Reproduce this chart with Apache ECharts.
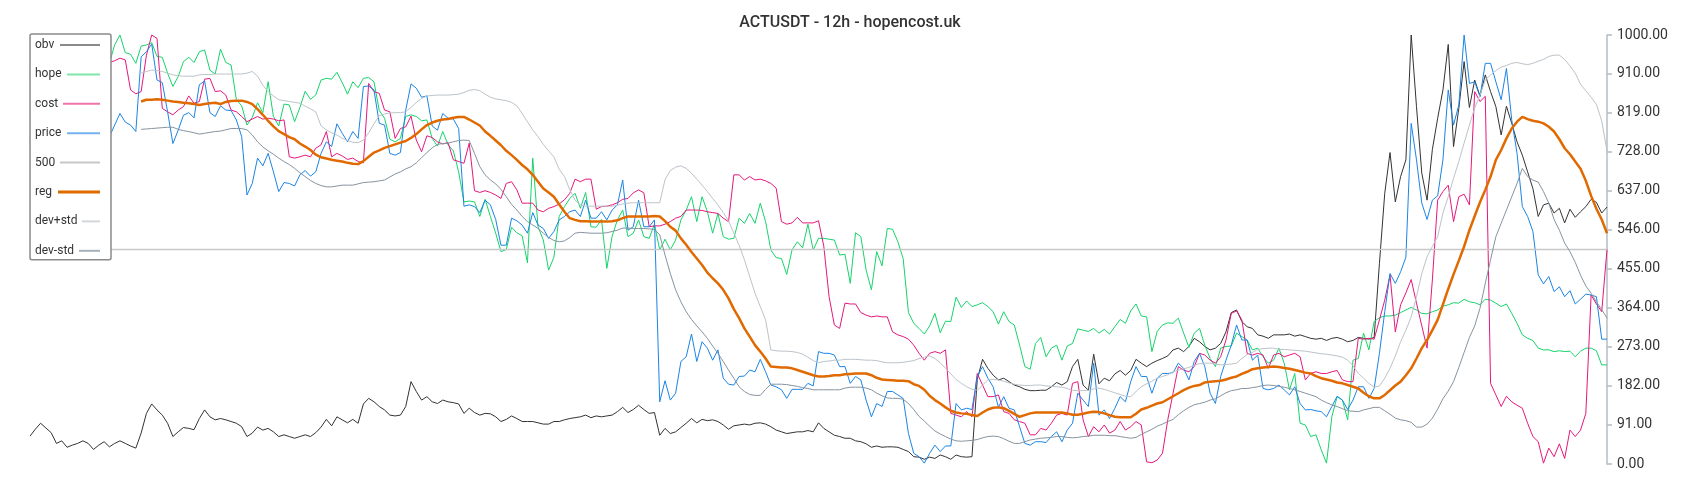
<!DOCTYPE html>
<html>
<head>
<meta charset="utf-8">
<script src="https://cdn.jsdelivr.net/npm/echarts@6/dist/echarts.min.js"></script>
<style>
html,body{margin:0;padding:0;background:#fff;}
#chart{width:1700px;height:500px;}
</style>
</head>
<body>
<div id="chart"></div>
<script>
// ---- data ----
const obv = [
65,81,95,84,73,48,54,39,44,48, 54,48,34,44,52,40,48,54,48,42,
37,72,118,140,126,114,95,64,75,85, 83,80,106,126,110,103,106,103,99,95,
87,64,72,86,79,83,75,64,68,64, 60,64,68,64,73,86,104,89,110,103,
96,104,95,140,153,145,134,126,114,112, 114,134,192,169,149,157,145,141,149,145,
143,140,118,130,120,114,118,117,110,99, 104,112,106,99,99,99,96,93,93,99,
99,103,106,108,110,114,108,112,110,112, 114,122,132,120,127,137,127,118,120,67,
83,71,75,85,95,106,96,104,101,103, 99,91,81,89,91,93,91,95,96,93,
87,79,75,71,73,75,75,78,75,96, 83,75,67,64,60,60,54,52,47,39,
42,39,40,40,39,34,29,17,16,11, 16,13,21,17,11,21,17,16,17,197,
244,223,207,196,200,192,184,180,174,171, 171,172,172,180,190,184,192,227,244,184,
172,256,187,200,194,210,218,207,218,244, 235,227,235,241,246,252,266,270,262,274,
293,285,274,266,270,281,308,353,359,332, 320,316,301,298,293,301,301,301,303,298,
301,297,293,291,293,288,293,295,291,285, 288,295,293,291,295,468,631,726,611,670,
709,1000,833,678,615,733,806,872,978,740, 829,938,831,895,858,907,868,833,767,834,
794,751,720,681,642,577,604,608,585,596, 562,594,575,588,600,617,610,585,599
];
const hope = [
905,930,955,940,970,985,960,945,975,990, 965,950,925,915,930,934,977,1000,959,955,
934,974,977,982,950,948,911,880,903,938, 948,936,961,965,918,909,967,936,930,849,
835,790,808,842,819,891,810,788,839,837, 798,831,869,850,860,895,899,897,913,889,
862,891,877,899,901,891,824,806,757,751, 759,810,814,810,800,802,759,741,775,744,
730,681,611,613,611,577,617,577,538,495, 500,552,539,532,469,713,553,522,452,482,
577,600,619,631,596,633,553,552,570,456, 531,569,592,530,538,569,530,526,559,499,
524,499,522,569,592,623,565,623,588,538, 584,530,524,526,573,561,584,561,608,565,
499,481,479,442,499,518,504,559,499,526, 526,524,522,487,489,421,539,530,452,406,
495,462,549,547,518,479,353,328,316,303, 322,351,306,333,332,389,365,380,367,371,
376,367,355,326,355,332,324,277,227,221, 281,295,250,270,277,242,275,281,315,312,
309,316,305,314,303,320,337,328,357,373, 345,343,262,309,324,329,328,340,305,272,
305,316,277,246,227,270,274,275,305,297, 289,266,270,250,235,242,270,235,173,211,
95,91,64,68,33,2,110,157,149,103, 242,246,305,266,332,341,345,345,347,353,
359,365,359,351,350,355,359,368,371,376, 375,384,378,376,371,384,382,375,367,373,
351,328,301,293,288,270,266,266,262,264, 262,263,250,263,270,270,264,231,231
];
const cost = [
930,945,960,950,935,920,940,955,965,950, 930,925,940,950,945,936,940,946,942,872,
863,868,953,1000,992,829,821,814,825,833, 858,841,845,897,899,868,870,860,825,821,
810,798,804,810,804,806,804,800,802,716, 713,716,720,716,736,744,775,716,724,718,
710,713,705,702,887,868,864,825,821,759, 782,786,811,755,728,765,761,751,746,749,
709,705,701,748,637,633,637,633,627,619, 654,658,639,608,608,608,592,588,596,600,
606,616,631,664,658,664,664,594,600,601, 604,609,617,619,632,639,632,553,555,555,
559,565,573,577,592,592,592,591,588,586, 584,573,565,674,674,662,670,662,664,660,
654,643,565,559,562,575,562,562,562,567, 508,390,324,316,375,373,373,353,347,343,
345,343,343,308,301,297,291,277,258,242, 258,262,258,266,118,114,110,122,110,211,
184,157,157,161,122,118,103,99,95,68, 68,83,79,95,114,118,114,188,192,103,
64,87,75,91,72,79,99,79,87,99, 91,5,3,9,25,103,165,227,219,215,
227,258,254,242,235,250,289,351,357,336, 258,254,258,254,223,254,258,250,254,258,
250,196,211,215,211,211,215,218,196,192, 192,293,291,293,291,336,382,441,308,371,
399,430,375,322,270,429,615,635,650,565, 623,629,604,868,845,857,188,161,134,158,
145,137,130,95,64,52,2,37,17,47, 13,79,64,79,118,394,373,355,500
];
const price = [
760,780,800,770,790,810,780,760,790,800, 775,765,785,795,770,763,790,817,797,790,
775,949,961,979,895,889,821,747,778,813, 819,807,884,893,819,810,835,825,824,802,
763,627,654,713,695,724,681,635,656,654, 648,674,684,671,681,724,751,740,793,771,
751,775,759,880,881,872,794,790,724,720, 726,825,886,876,855,858,788,778,817,806,
804,782,601,604,600,586,615,604,570,510, 510,573,567,557,538,586,557,549,526,542,
569,577,588,592,577,615,573,573,588,569, 592,604,662,545,553,615,553,553,569,145,
194,149,165,239,250,303,239,285,270,242, 266,200,186,184,204,205,219,215,244,215,
184,180,173,153,174,174,174,188,182,262, 258,258,254,227,227,188,204,196,149,110,
141,134,169,169,161,153,71,25,17,2, 25,44,29,42,42,141,126,130,127,204,
227,200,180,132,157,130,126,87,48,44, 52,52,50,64,75,52,79,95,165,149,
134,235,114,126,106,130,157,145,192,227, 204,204,165,200,211,211,213,235,223,196,
239,258,227,165,141,204,242,277,324,289, 289,242,254,176,173,176,184,173,161,180,
141,126,127,124,122,110,134,158,149,127, 149,180,180,153,176,258,355,444,421,448,
482,794,709,608,570,615,625,709,872,790, 837,1000,887,891,856,934,934,891,849,922,
802,724,600,577,542,441,420,437,402,413, 390,404,373,384,396,394,390,291,291
];
const level500 = [500, 500]; // flat line, first and last category
const reg = [
null,null,null,null,null,null,null,null,null,null, null,null,null,null,null,null,null,null,null,null,
null,845,849,849,850,849,847,845,844,842, 841,839,837,839,841,842,839,844,846,847,
847,844,839,827,814,800,787,776,769,762, 757,747,740,732,721,715,712,709,707,705,
702,700,699,706,716,726,731,737,741,745, 749,753,760,769,780,790,796,800,803,804,
807,809,809,803,796,789,775,765,754,743, 730,720,709,697,687,674,658,642,633,623,
605,588,573,569,566,566,565,565,565,565, 566,568,573,577,577,577,577,577,578,577,
566,553,544,526,511,494,479,464,446,433, 421,406,386,361,340,316,297,277,262,246,
227,226,225,225,223,219,215,211,207,204, 204,205,207,207,209,210,211,211,211,207,
201,197,196,195,194,194,193,186,182,173, 159,149,141,132,124,120,118,117,114,112,
120,127,131,132,130,124,117,110,114,118, 120,120,120,120,120,120,118,115,115,117,
120,122,121,118,114,110,109,109,109,117, 127,131,136,141,144,151,158,165,172,178,
182,184,190,192,193,194,197,201,204,210, 215,221,223,225,226,227,226,224,222,219,
216,213,211,205,200,197,194,190,188,184, 180,176,166,158,153,153,161,172,183,192,
207,223,246,270,289,312,336,372,408,442, 474,507,545,578,610,639,670,709,732,759,
782,798,809,804,800,798,794,786,775,757, 736,722,705,688,660,625,595,570,538
];
const devPlus = [
null,null,null,null,null,null,null,null,null,null, null,null,null,null,null,null,null,null,null,null,
null,911,915,918,917,915,911,907,905,904, 904,904,907,908,908,909,909,909,909,909,
909,911,915,904,883,868,858,849,847,845, 843,841,834,828,821,788,779,772,767,759,
754,750,749,755,772,793,812,816,818,819, 819,821,831,843,852,858,859,860,860,860,
861,862,866,871,873,870,862,855,851,849, 847,843,835,817,798,779,763,745,730,716,
687,670,639,615,604,601,601,601,601,601, 601,603,606,608,609,609,609,609,609,609,
663,684,692,695,689,678,664,650,635,619, 604,586,567,538,510,476,437,398,367,336,
266,264,263,263,262,260,256,249,241,236, 239,240,242,242,244,244,244,243,242,242,
241,238,236,236,236,237,239,241,246,249, 252,246,236,223,210,197,188,180,174,172,
184,196,197,196,193,189,186,184,183,183, 184,184,182,181,180,179,176,172,171,171,
172,175,177,174,170,166,162,158,157,169, 180,187,193,200,204,208,215,219,222,225,
230,234,235,235,233,231,232,233,235,246, 255,260,267,269,270,270,267,267,266,265,
264,263,261,259,257,256,254,252,249,242, 229,211,200,188,179,182,200,223,252,285,
312,343,390,444,483,507,530,585,623,666, 705,748,790,830,860,895,907,917,925,929,
934,936,933,931,934,939,943,950,953,953, 943,928,911,885,870,855,838,800,730
];
const devMinus = [
null,null,null,null,null,null,null,null,null,null, null,null,null,null,null,null,null,null,null,null,
null,780,781,782,783,784,785,785,780,777, 775,772,769,771,773,775,776,779,782,782,
782,779,767,751,739,730,722,713,705,698, 689,679,670,661,654,649,646,646,648,650,
650,650,653,656,657,658,660,662,669,676, 681,688,693,702,714,726,737,745,747,748,
751,754,755,754,724,693,674,662,653,640, 623,605,592,577,565,557,549,538,528,521,
518,520,528,538,540,539,538,538,538,539, 542,545,550,550,549,549,549,548,547,534,
487,444,406,378,355,337,322,308,293,275, 258,239,219,200,180,169,162,160,160,174,
186,186,186,185,183,181,178,176,173,173, 173,173,173,173,177,179,179,179,177,173,
165,159,154,153,153,151,141,127,111,100, 88,77,70,64,58,54,53,54,55,57,
61,64,65,64,59,53,48,48,52,56, 58,60,61,62,64,64,62,61,62,64,
65,67,67,67,66,66,64,62,60,62, 69,75,81,88,93,99,104,115,124,132,
138,141,144,149,152,159,166,171,173,176, 176,178,180,183,184,183,181,179,176,173,
169,165,161,157,149,143,138,134,129,124, 123,122,126,129,132,132,124,116,107,103,
101,97,86,86,93,107,128,152,170,192, 225,260,295,322,363,421,476,530,561,592,
623,654,689,670,662,657,635,608,570,545, 515,495,470,440,415,398,378,360,340
];
const yTicks = { min: 0, max: 1000, step: 91 };
const categories = obv.map((_, i) => i);

// ---- chart ----
const names = ['obv', 'hope', 'cost', 'price', '500', 'reg', 'dev+std', 'dev-std'];
const colors = {
  'obv': '#333333', 'hope': '#16d36b', 'cost': '#e5177c', 'price': '#1b84e4',
  '500': '#c8c8c8', 'reg': '#e06900', 'dev+std': '#bcc3c9', 'dev-std': '#8694a0'
};
const legendKeys = {
  'obv': 'lobv', 'hope': 'lhope', 'cost': 'lcost', 'price': 'lprice',
  '500': 'l500', 'reg': 'lreg', 'dev+std': 'ldevp', 'dev-std': 'ldevm'
};
const legendLine = (w, c, h) => ({ width: w, height: h || 2, backgroundColor: c, align: 'right' });

const chart = echarts.init(document.getElementById('chart'), null, { renderer: 'canvas' });

function lineSeries(name, data, width, extra) {
  return Object.assign({
    name: name, type: 'line', data: data,
    showSymbol: false, symbol: 'none', smooth: false,
    connectNulls: false,
    lineStyle: { color: colors[name], width: width },
    itemStyle: { color: colors[name] },
    emphasis: { disabled: true },
    animation: false
  }, extra || {});
}

chart.setOption({
  animation: false,
  backgroundColor: '#ffffff',
  title: {
    text: 'ACTUSDT - 12h - hopencost.uk',
    left: 'center', top: 10,
    textStyle: { fontSize: 16, fontWeight: 500, color: '#333333', fontFamily: 'Roboto' }
  },
  legend: {
    orient: 'vertical', left: 30, top: 34,
    padding: [4, 11, 2, 0],
    itemGap: 15.4, itemWidth: 0, itemHeight: 14,
    icon: 'none',
    selectedMode: false,
    backgroundColor: '#ffffff',
    borderColor: '#8a8a8a', borderWidth: 1.5, borderRadius: 2,
    data: names,
    formatter: function (name) { return '{t|' + name + '}{' + legendKeys[name] + '|}'; },
    textStyle: {
      width: 65, lineHeight: 14, color: '#333333', fontSize: 12, fontFamily: 'Roboto',
      rich: {
        t: { fontSize: 12, color: '#333333', fontFamily: 'Roboto', lineHeight: 14 },
        lobv: legendLine(40, '#8a8a8a'),
        lhope: legendLine(33, '#7de6a8'),
        lcost: legendLine(37, '#ef74ad'),
        lprice: legendLine(33, '#73b2ee'),
        l500: legendLine(40, '#c8c8c8'),
        lreg: legendLine(42, '#e06900', 3),
        ldevp: legendLine(18, '#d3d7db'),
        ldevm: legendLine(21, '#a7b1b9')
      }
    }
  },
  grid: { left: 30, right: 93, top: 35, bottom: 36, containLabel: false },
  xAxis: {
    type: 'category', data: categories, boundaryGap: false, show: false
  },
  yAxis: {
    type: 'value', position: 'right',
    min: yTicks.min, max: yTicks.max, interval: yTicks.step,
    axisLine: { show: true, lineStyle: { color: '#b3bcc4', width: 1.5 } },
    axisTick: { show: true, length: 5, lineStyle: { color: '#b3bcc4', width: 1.5 } },
    axisLabel: {
      margin: 10, color: '#333333', fontSize: 14, fontFamily: 'Roboto',
      formatter: function (v) { return v.toFixed(2); }
    },
    splitLine: { show: false }
  },
  series: [
    lineSeries('obv', obv, 1),
    lineSeries('hope', hope, 1),
    lineSeries('cost', cost, 1),
    lineSeries('price', price, 1),
    lineSeries('500', [[categories[0], level500[0]], [categories[categories.length - 1], level500[1]]], 1.5),
    lineSeries('reg', reg, 2.5),
    lineSeries('dev+std', devPlus, 1),
    lineSeries('dev-std', devMinus, 1)
  ]
});
</script>
</body>
</html>
